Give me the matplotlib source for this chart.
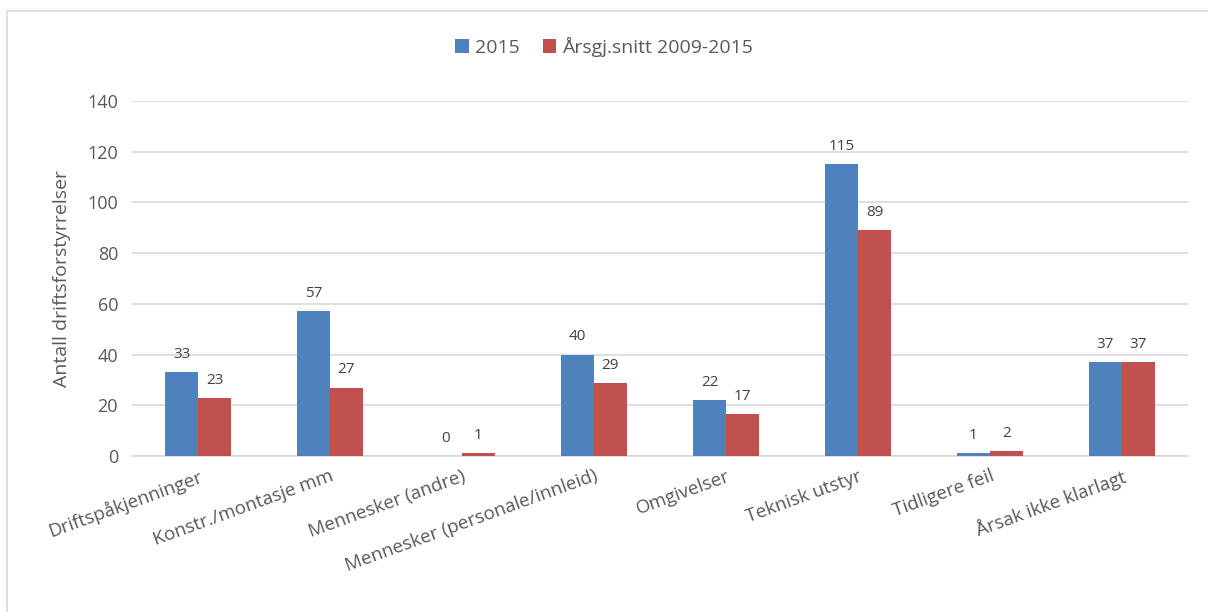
import matplotlib.pyplot as plt
from matplotlib.patches import Rectangle
import numpy as np

categories = ["Driftspåkjenninger", "Konstr./montasje mm", "Mennesker (andre)",
              "Mennesker (personale/innleid)", "Omgivelser", "Teknisk utstyr",
              "Tidligere feil", "Årsak ikke klarlagt"]
val_2015 = [33, 57, 0, 40, 22, 115, 1, 37]
val_avg = [23, 27, 1, 28.7, 16.6, 89, 2, 37.2]
series_names = ["2015", "Årsgj.snitt 2009-2015"]
yticks = [0, 20, 40, 60, 80, 100, 120, 140]

BLUE = "#4F81BD"
RED = "#C0504D"
TXT = "#595959"

plt.rcParams['font.family'] = ['Open Sans', 'DejaVu Sans']

fig = plt.figure(figsize=(12.08, 6.12), dpi=100)
ax = fig.add_axes([132 / 1208, 1 - 456 / 612, 1056 / 1208, 355 / 612])

# outer chart frame
fig.patches.append(Rectangle((7 / 1208, -0.1), 1.2, 1.1 - 11 / 612, transform=fig.transFigure,
                             fill=False, edgecolor="#d9d9d9", linewidth=1.2))

x = np.arange(len(categories))
w = 0.25
b1 = ax.bar(x - w / 2, val_2015, w, color=BLUE, label=series_names[0], zorder=3)
b2 = ax.bar(x + w / 2, val_avg, w, color=RED, label=series_names[1], zorder=3)

for bars, vals in ((b1, val_2015), (b2, val_avg)):
    for rect, v in zip(bars, vals):
        ax.text(rect.get_x() + rect.get_width() / 2, v + 4, f"{round(v)}",
                ha="center", va="bottom", fontsize=11, color="#404040")

ax.set_xlim(-0.5, len(categories) - 0.5)
ax.set_ylim(0, 140)
ax.set_yticks(yticks)
ax.grid(axis="y", color="#d9d9d9", linewidth=1.2, zorder=0)
ax.tick_params(axis="y", length=0, labelsize=13, colors=TXT, pad=10)
ax.tick_params(axis="x", length=0, labelsize=13.5, colors=TXT, pad=8)
ax.set_xticks(x)
ax.set_xticklabels(categories, rotation=20, ha="right", rotation_mode="anchor")
for s in ["top", "right", "left"]:
    ax.spines[s].set_visible(False)
ax.spines["bottom"].set_color("#d9d9d9")
ax.spines["bottom"].set_linewidth(1.2)

ax.set_ylabel("Antall driftsforstyrrelser", fontsize=14, color=TXT, labelpad=12)

fig.legend(loc="center", bbox_to_anchor=(604 / 1208, 1 - 47 / 612), ncol=2, frameon=False,
           fontsize=14, labelcolor=TXT, handlelength=0.7, handleheight=0.7,
           handletextpad=0.3, columnspacing=1.2)

fig.savefig("out.png", dpi=100)
